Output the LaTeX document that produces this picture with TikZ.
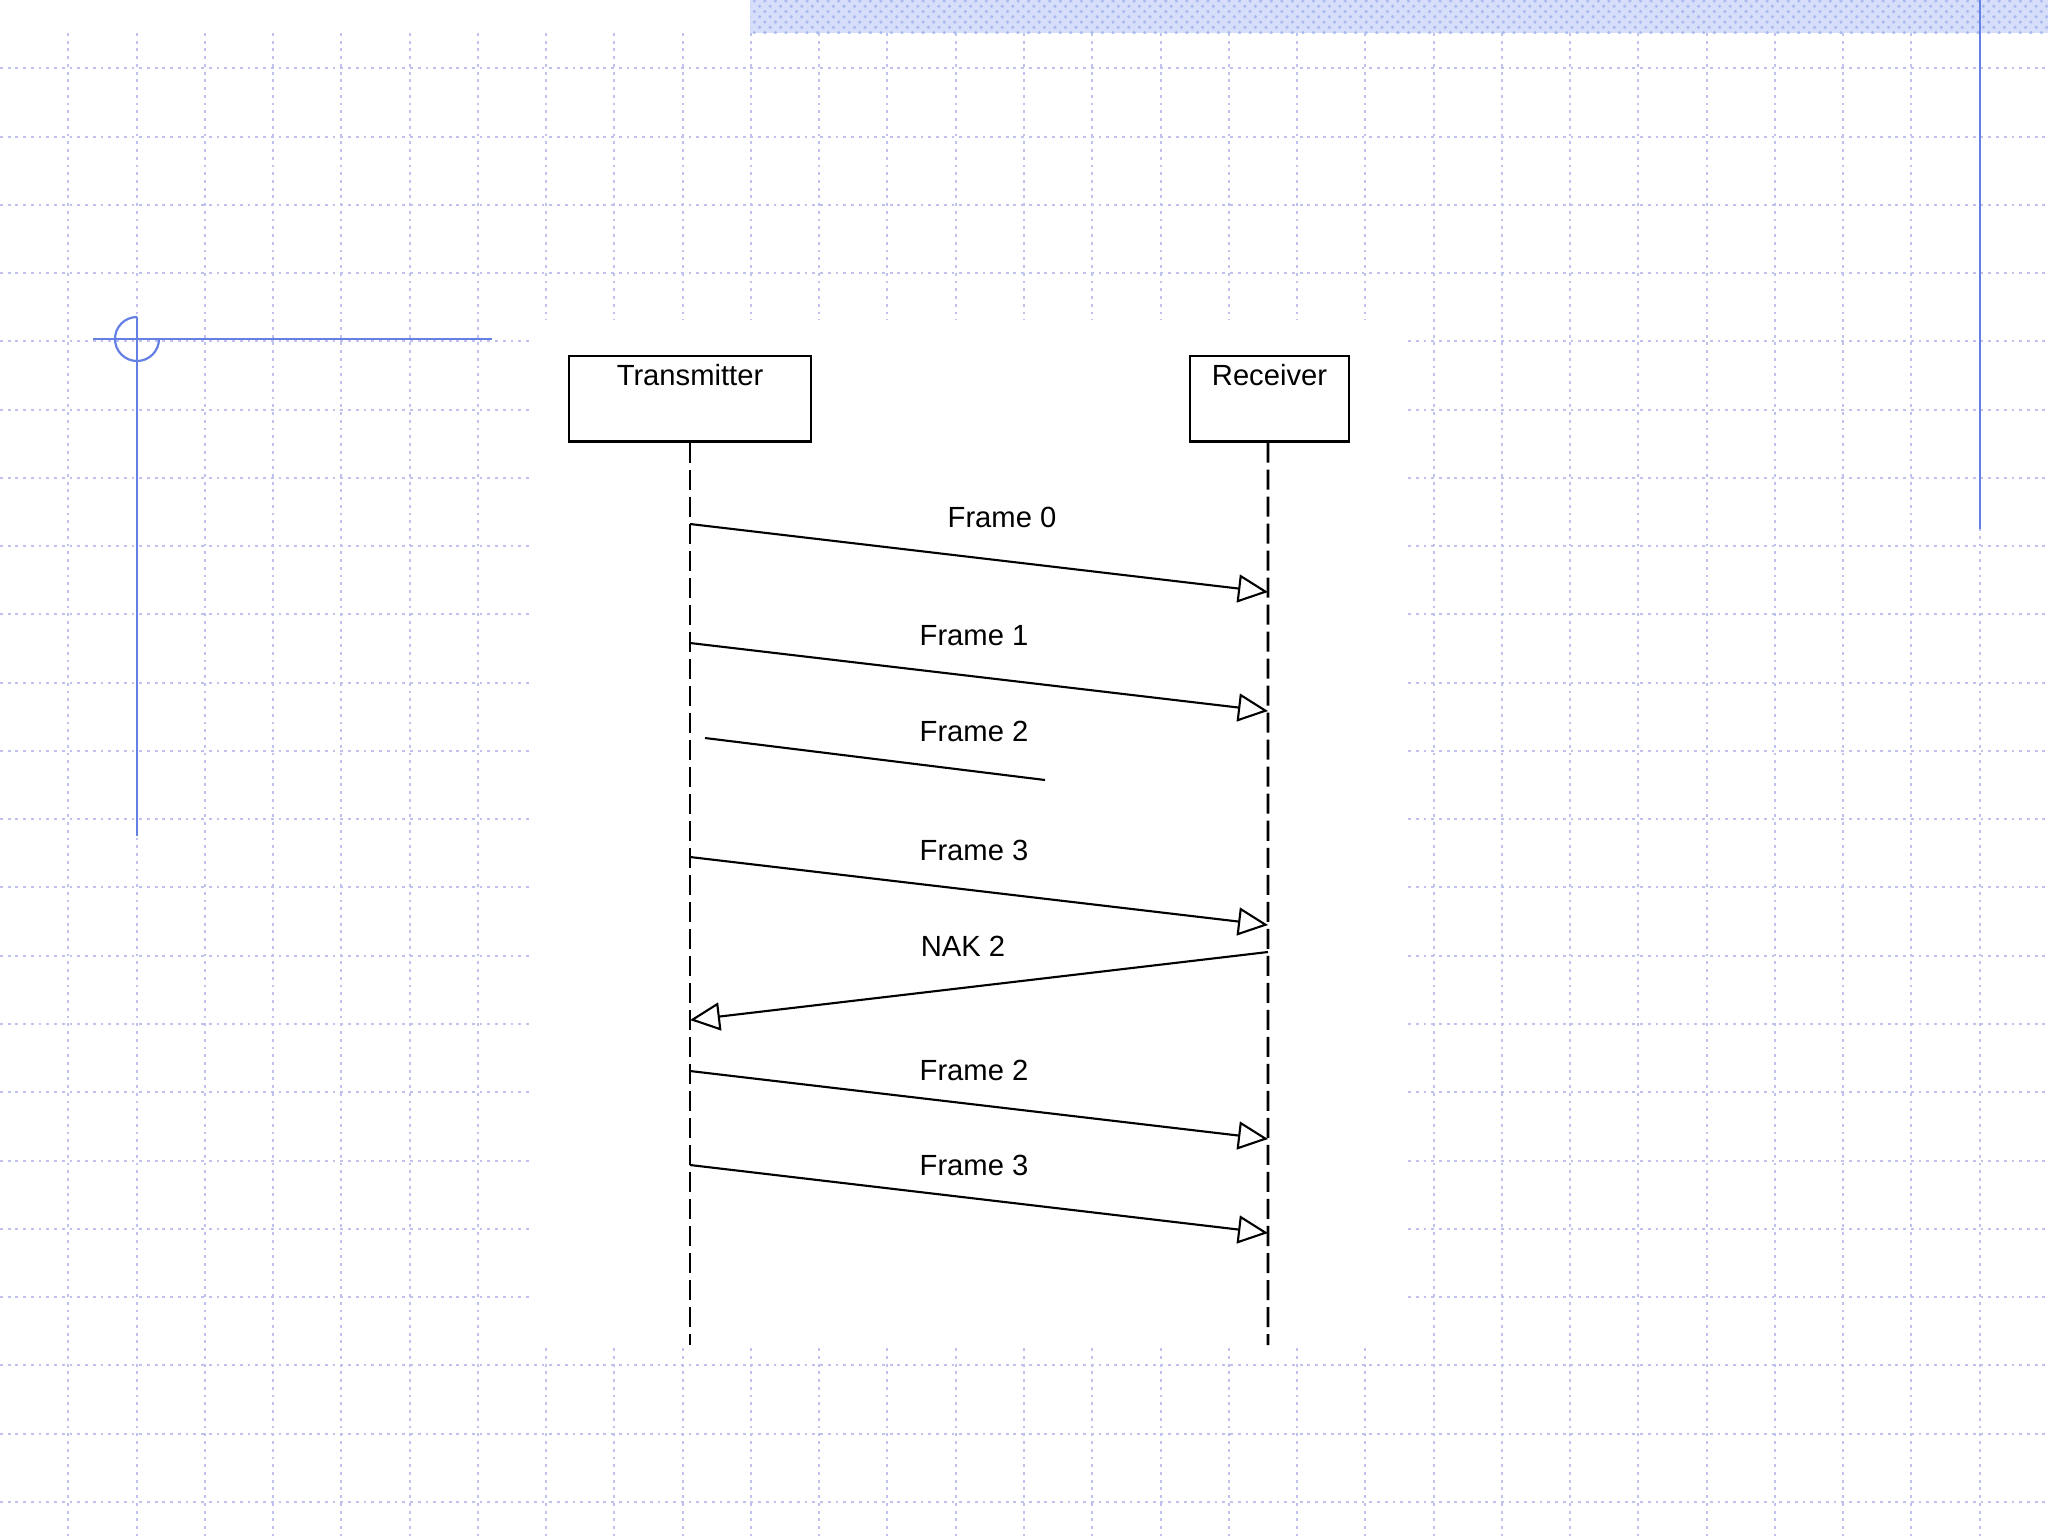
\documentclass[tikz,border=0pt]{standalone}
\usepackage{fontspec}
\setmainfont{Liberation Sans}
\usetikzlibrary{arrows.meta,patterns}
\definecolor{gridc}{RGB}{192,194,238}
\definecolor{crossc}{RGB}{100,128,228}
\definecolor{bannerbg}{RGB}{214,222,250}
\definecolor{bannerfg}{RGB}{170,186,240}
\tikzset{
  gridline/.style={draw=gridc, line width=0.02cm, dash pattern=on 0.8pt off 1.4pt},
  crossline/.style={draw=crossc, line width=0.022cm},
  box/.style={draw=black, line width=0.7pt, minimum width=2.415cm, minimum height=0.85cm, inner sep=0pt, anchor=north},
  lbl/.style={font=\fontsize{8.3}{10}\selectfont, inner sep=0pt},
  life/.style={draw=black, line width=0.75pt, dash pattern=on 0.2cm off 0.07cm},
  msg/.style={draw=black, line width=0.6pt, -{Triangle[length=0.3cm, width=0.28cm, fill=white, line width=0.6pt]}},
  lost/.style={draw=black, line width=0.6pt}
}
\begin{document}
\begin{tikzpicture}[x=0.01cm, y=-0.01cm]
\useasboundingbox (0,0) rectangle (2048,1536);
\fill[white] (0,0) rectangle (2048,1536);
% grid
\foreach \i in {1,...,29} \draw[gridline] (\i*68.267,33) -- (\i*68.267,1536);
\foreach \j in {1,...,22} \draw[gridline] (0,\j*68.267) -- (2048,\j*68.267);
% banner
\fill[bannerbg] (750,0) rectangle (2048,33);
\fill[pattern=crosshatch dots, pattern color=bannerfg] (750,0) rectangle (2048,33);
% right vertical line
\draw[crossline] (1980,0) -- (1980,529);
% crosshair
\draw[crossline] (93,339) -- (492,339);
\draw[crossline] (137,317) -- (137,836);
\draw[crossline] (137,317) arc[start angle=-90, end angle=-360, radius=22];
% white diagram area
\fill[white] (529,320) rectangle (1404,1346);
% boxes
\node[box] (tx) at (690,355) {};
\node[box, minimum width=1.59cm] (rx) at (1269.5,355) {};
\node[lbl] (txt) at ([yshift=-0.2cm]tx.north) {Transmitter};
\node[lbl] (rxt) at ([yshift=-0.2cm]rx.north) {Receiver};
% lifelines
\coordinate (txend) at (690,1345);
\coordinate (rxend) at (1268,1345);
\draw[life] (tx.south) -- (txend);
\draw[life] ([xshift=-0.015cm]rx.south) -- (rxend);
% message end points
\coordinate (a0) at (690,524);  \coordinate (b0) at (1268,592);
\coordinate (a1) at (690,643);  \coordinate (b1) at (1268,711);
\coordinate (a2) at (705,738);  \coordinate (b2) at (1045,780);
\coordinate (a3) at (690,857);  \coordinate (b3) at (1268,925);
\coordinate (a4) at (1268,952); \coordinate (b4) at (690,1020);
\coordinate (a5) at (690,1071); \coordinate (b5) at (1268,1139);
\coordinate (a6) at (690,1165); \coordinate (b6) at (1268,1233);
\draw[msg] (a0) -- (b0);
\draw[msg] (a1) -- (b1);
\draw[lost] (a2) -- (b2);
\draw[msg] (a3) -- (b3);
\draw[msg] (a4) -- (b4);
\draw[msg] (a5) -- (b5);
\draw[msg] (a6) -- (b6);
% labels
\node[lbl] (l0) at (1002,517) {Frame 0};
\node[lbl] (l1) at (974,636) {Frame 1};
\node[lbl] (l2) at (974,731) {Frame 2};
\node[lbl] (l3) at (974,850) {Frame 3};
\node[lbl] (l4) at (963,946) {NAK 2};
\node[lbl] (l5) at (974,1070) {Frame 2};
\node[lbl] (l6) at (974,1165) {Frame 3};
\end{tikzpicture}
\end{document}
